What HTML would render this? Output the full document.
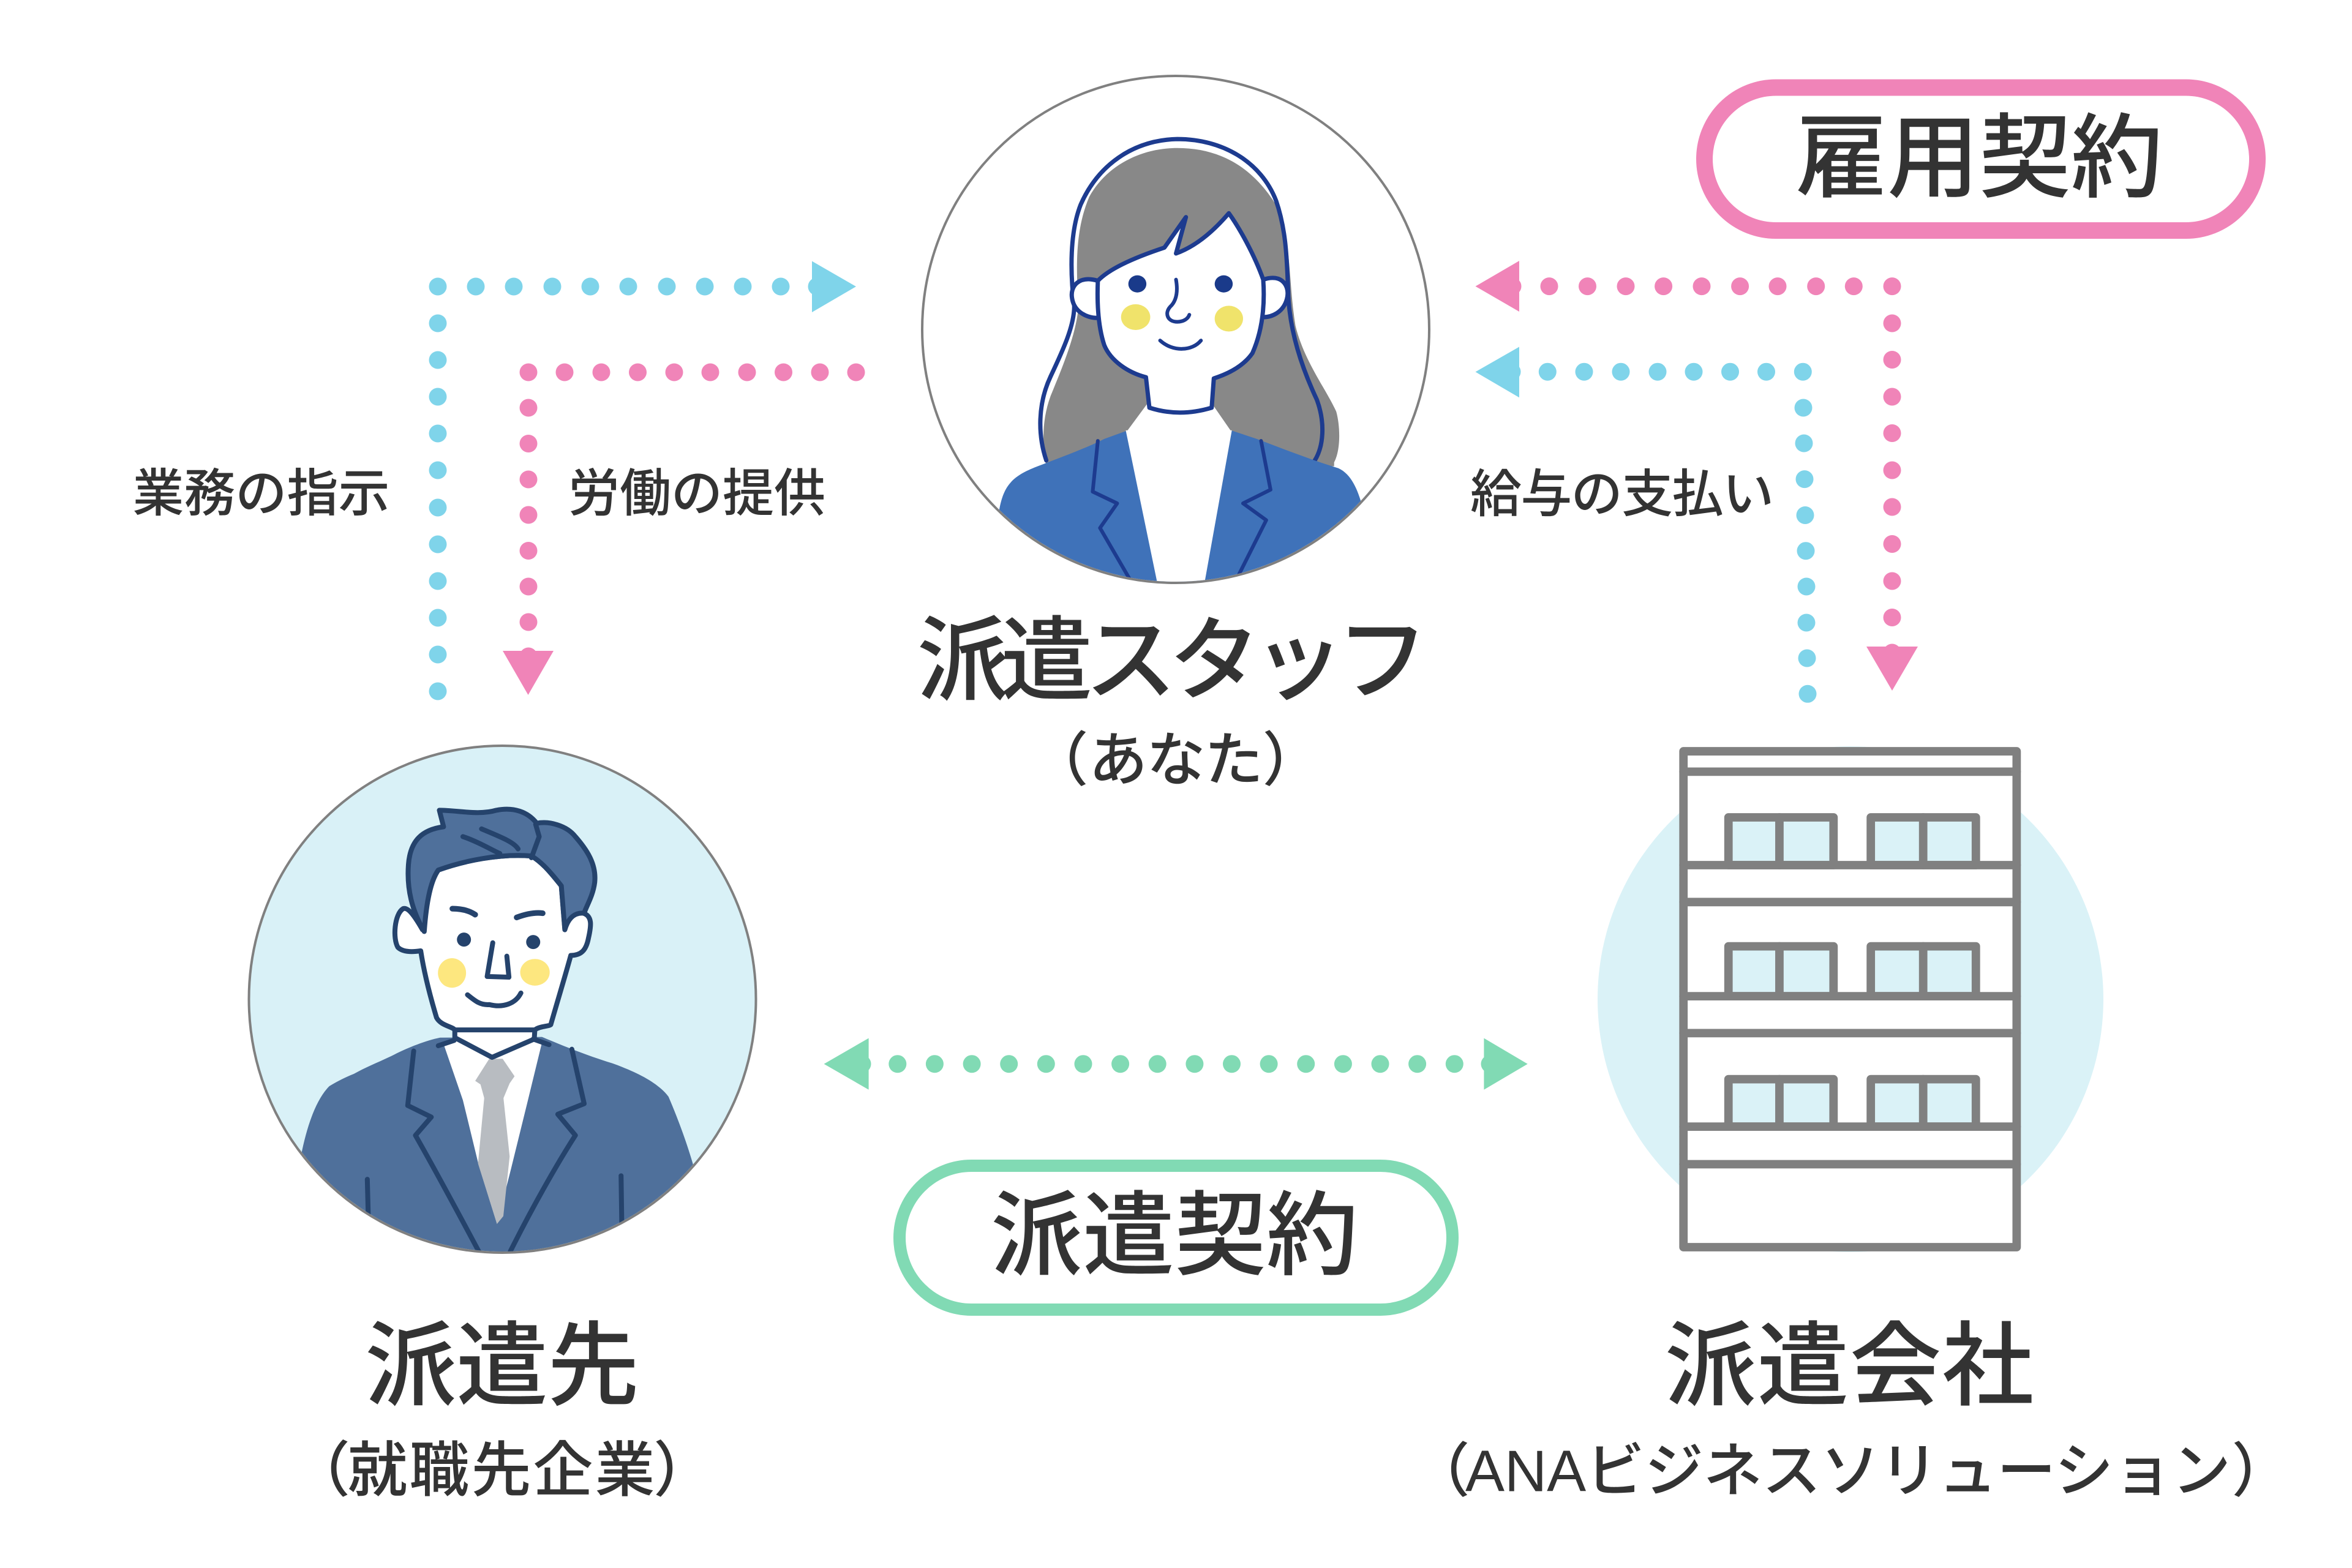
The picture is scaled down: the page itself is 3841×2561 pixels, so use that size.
<!DOCTYPE html>
<html><head><meta charset="utf-8"><style>html,body{margin:0;padding:0;background:#fff;}svg{display:block}.p{font-feature-settings:"palt";}</style></head><body>
<svg width="3841" height="2561" viewBox="0 0 3841 2561" xmlns="http://www.w3.org/2000/svg">
<defs>
<clipPath id="cw"><circle cx="1920" cy="538" r="412"/></clipPath>
<clipPath id="cm"><circle cx="820.5" cy="1632" r="412"/></clipPath>
</defs>
<rect width="3841" height="2561" fill="#fff"/>

<!-- circles -->
<circle cx="1920" cy="538" r="414" fill="#fff" stroke="#808080" stroke-width="4"/>
<circle cx="820.5" cy="1632" r="414" fill="#d9f1f7" stroke="#808080" stroke-width="4"/>
<circle cx="3022" cy="1632" r="413" fill="#daf2f7"/>

<!-- woman -->
<g clip-path="url(#cw)">
<g transform="translate(1400,60) scale(0.70153,0.63776)" stroke-linejoin="round" stroke-linecap="round">
<path d="M745,285 C850,285 930,340 985,450 C1010,540 1005,640 1020,740 C1040,830 1090,900 1115,960 C1125,1000 1125,1060 1110,1090 L1110,1100 L440,1100 C430,1040 430,980 450,920 C480,840 510,760 515,690 C510,600 505,500 540,410 C580,330 660,285 745,285 Z" fill="#888"/>
<path d="M440,1085 C420,1020 420,940 450,870 C480,800 505,740 505,690 C495,600 495,500 520,430 C560,330 640,265 745,262 C850,262 940,320 975,420 C1000,500 1000,580 1003,650 C1005,760 1040,860 1070,930 C1090,990 1085,1050 1065,1085" fill="none" stroke="#1d3b8f" stroke-width="7" vector-effect="non-scaling-stroke"/>
<path d="M330,1215 C340,1150 360,1125 420,1100 C480,1075 540,1050 575,1030 L630,1008 L870,1008 L930,1030 C990,1055 1060,1085 1120,1105 C1150,1120 1165,1160 1175,1200 L1200,1450 L300,1450 Z" fill="#3f72b9"/>
<path d="M625,1008 L872,1008 L800,1450 L708,1450 Z" fill="#fff"/>
<path d="M675,940 L826,940 L870,1010 L628,1010 Z" fill="#fff"/>
<path d="M560,625 C515,610 495,640 500,670 C505,705 535,722 565,720 Z" fill="#fff" stroke="#1d3b8f" stroke-width="7" vector-effect="non-scaling-stroke"/>
<path d="M945,622 C990,605 1008,640 1000,672 C992,705 965,720 940,718 Z" fill="#fff" stroke="#1d3b8f" stroke-width="7" vector-effect="non-scaling-stroke"/>
<path d="M560,625 C590,590 660,560 715,540 L765,462 L742,555 C780,540 820,510 865,452 C890,490 925,560 945,622 C950,700 940,760 920,810 C895,850 850,868 830,875 L825,950 Q750,975 680,950 L672,872 C630,860 590,830 575,790 C560,740 558,680 560,625 Z" fill="#fff" stroke="#1d3b8f" stroke-width="7" vector-effect="non-scaling-stroke"/>
<ellipse cx="652" cy="633" rx="21" ry="22" fill="#1a3a8a"/>
<ellipse cx="853" cy="633" rx="21" ry="22" fill="#1a3a8a"/>
<ellipse cx="648" cy="718" rx="34" ry="33" fill="#f0e36b"/>
<ellipse cx="865" cy="722" rx="33" ry="33" fill="#f0e36b"/>
<path d="M742,622 C748,660 740,680 728,692 C715,708 722,730 745,730 C760,730 770,722 773,712" fill="none" stroke="#1d3b8f" stroke-width="6" vector-effect="non-scaling-stroke"/>
<path d="M705,778 C735,808 780,805 800,778" fill="none" stroke="#1d3b8f" stroke-width="6" vector-effect="non-scaling-stroke"/>
<path d="M560,1035 L548,1165 L605,1195 L565,1258 L640,1400 M940,1035 L962,1160 L898,1195 L952,1238 L878,1400" fill="none" stroke="#1d3b8f" stroke-width="6" vector-effect="non-scaling-stroke"/>
</g>
</g>

<!-- man -->
<g clip-path="url(#cm)">
<g transform="translate(380,1200) scale(0.57398)" stroke-linejoin="round" stroke-linecap="round">
<path d="M195,1195 C210,1120 235,1040 275,1000 C300,985 320,975 345,965 C380,945 420,930 460,910 C500,890 550,870 590,862 L880,860 C940,885 1000,910 1080,935 C1150,960 1210,990 1240,1030 C1270,1100 1295,1170 1312,1230 L1330,1520 L170,1520 Z" fill="#4f709b"/>
<path d="M600,880 L640,868 L738,915 L858,868 L880,876 L840,1040 L792,1235 L752,1392 L700,1225 L655,1040 Z" fill="#fff"/>
<path d="M730,922 L768,922 L802,972 L788,992 L770,1035 L716,1035 L705,995 L690,985 Z" fill="#b8bcc1"/>
<path d="M716,1030 L770,1030 L788,1200 L770,1370 L752,1392 L698,1220 Z" fill="#b8bcc1"/>
<path d="M628,830 L860,830 L858,868 L738,915 L632,862 Z" fill="#fff"/>
<path d="M632,830 L632,862 L738,918 L858,866 L860,835" fill="none" stroke="#25436c" stroke-width="14"/>
<path d="M540,555 C520,520 500,490 485,495 C460,510 455,580 470,605 C485,620 515,618 535,615 C545,680 562,745 580,805 C592,828 625,830 632,840 L860,840 C870,830 900,830 905,825 C925,755 945,690 962,628 C990,628 1005,615 1012,580 C1020,545 1025,515 995,507 C970,500 952,520 945,552 L935,430 C910,400 880,360 850,345 C760,338 660,358 585,385 C560,420 548,490 540,555 Z" fill="#fff" stroke="#25436c" stroke-width="14"/>
<path d="M545,560 C510,500 495,440 500,370 C505,300 540,270 600,262 L588,215 C640,215 700,230 750,215 C800,205 840,220 865,252 C900,245 950,258 975,290 C1010,330 1035,370 1030,420 C1025,460 1005,490 1000,508 C975,505 955,520 945,555 L935,430 C900,385 875,360 850,345 C760,338 660,358 585,385 C560,420 550,490 545,560 Z" fill="#4f709b" stroke="#25436c" stroke-width="14"/>
<path d="M655,290 C700,305 740,330 760,338 M708,268 C760,290 800,305 812,325 M862,255 L872,290 L850,350" fill="none" stroke="#25436c" stroke-width="14"/>
<path d="M625,495 C650,495 672,500 690,512 M808,520 C835,510 860,505 882,508" fill="none" stroke="#25436c" stroke-width="16"/>
<circle cx="658" cy="583" r="20" fill="#25436c"/>
<circle cx="855" cy="590" r="20" fill="#25436c"/>
<ellipse cx="624" cy="678" rx="40" ry="42" fill="#fde77f"/>
<ellipse cx="860" cy="676" rx="42" ry="38" fill="#fde77f"/>
<path d="M740,592 L724,688 L786,690 L780,630" fill="none" stroke="#25436c" stroke-width="14"/>
<path d="M668,740 C690,758 705,770 730,768 C770,778 805,765 820,735" fill="none" stroke="#25436c" stroke-width="14"/>
<path d="M515,900 L498,1055 L565,1088 L520,1140 C560,1210 620,1320 700,1470 M965,895 L1000,1050 L925,1080 L975,1140 C930,1210 860,1330 790,1470 M383,1265 L386,1380 M1105,1255 L1107,1390 M585,885 L630,870 M855,866 L900,882" fill="none" stroke="#25436c" stroke-width="14"/>
</g>
</g>

<!-- building -->
<g transform="translate(2600,1180) scale(0.57398)" stroke="#808080" stroke-width="24" stroke-linejoin="round" stroke-linecap="round">
<rect x="260" y="82" width="948" height="1411" fill="#fff"/>
<rect x="388" y="270" width="299" height="136" fill="#daf2f7"/>
<rect x="793" y="270" width="299" height="136" fill="#daf2f7"/>
<rect x="388" y="637" width="299" height="142" fill="#daf2f7"/>
<rect x="793" y="637" width="299" height="142" fill="#daf2f7"/>
<rect x="388" y="1015" width="299" height="135" fill="#daf2f7"/>
<rect x="793" y="1015" width="299" height="135" fill="#daf2f7"/>
<path d="M533,270 V406 M942,270 V406 M533,637 V779 M942,637 V779 M533,1015 V1150 M942,1015 V1150" fill="none"/>
<path d="M260,140 H1208 M260,406 H1208 M260,511 H1208 M260,779 H1208 M260,884 H1208 M260,1150 H1208 M260,1257 H1208" fill="none"/>
</g>

<!-- pills -->
<rect x="2783.5" y="143" width="903" height="233.5" rx="116.75" fill="#fff" stroke="#f084b8" stroke-width="27"/>
<rect x="1469" y="1904" width="903" height="235" rx="117.5" fill="#fff" stroke="#81dab4" stroke-width="20"/>

<!-- blue path 1 -->
<g fill="#7fd4ea">
<circle cx="715" cy="468" r="14.5"/><circle cx="777" cy="468" r="14.5"/><circle cx="839" cy="468" r="14.5"/><circle cx="902" cy="468" r="14.5"/><circle cx="964" cy="468" r="14.5"/><circle cx="1026" cy="468" r="14.5"/><circle cx="1089" cy="468" r="14.5"/><circle cx="1151" cy="468" r="14.5"/><circle cx="1213" cy="468" r="14.5"/><circle cx="1275" cy="468" r="14.5"/><circle cx="1334" cy="468" r="14.5"/>
<circle cx="715" cy="528" r="14.5"/><circle cx="715" cy="588" r="14.5"/><circle cx="715" cy="648" r="14.5"/><circle cx="715" cy="708" r="14.5"/><circle cx="715" cy="768" r="14.5"/><circle cx="715" cy="829" r="14.5"/><circle cx="715" cy="889" r="14.5"/><circle cx="715" cy="949" r="14.5"/><circle cx="715" cy="1009" r="14.5"/><circle cx="715" cy="1069" r="14.5"/><circle cx="715" cy="1129" r="14.5"/>
<polygon points="1326,426.5 1398,468 1326,510"/>
</g>
<!-- pink path 1 -->
<g fill="#f084b8">
<circle cx="863" cy="608" r="14.5"/><circle cx="922" cy="608" r="14.5"/><circle cx="982" cy="608" r="14.5"/><circle cx="1041.5" cy="608" r="14.5"/><circle cx="1101" cy="608" r="14.5"/><circle cx="1160" cy="608" r="14.5"/><circle cx="1220" cy="608" r="14.5"/><circle cx="1279.5" cy="608" r="14.5"/><circle cx="1339" cy="608" r="14.5"/><circle cx="1398" cy="608" r="14.5"/>
<circle cx="863" cy="666" r="14.5"/><circle cx="863" cy="724.5" r="14.5"/><circle cx="863" cy="783" r="14.5"/><circle cx="863" cy="841" r="14.5"/><circle cx="863" cy="899.5" r="14.5"/><circle cx="863" cy="958" r="14.5"/><circle cx="863" cy="1016" r="14.5"/><circle cx="863" cy="1072" r="14.5"/>
<polygon points="821,1063 904,1063 862.5,1135"/>
</g>
<!-- pink path 2 -->
<g fill="#f084b8">
<circle cx="2470" cy="467.6" r="14.5"/><circle cx="2530" cy="467.6" r="14.5"/><circle cx="2592.5" cy="467.6" r="14.5"/><circle cx="2655" cy="467.6" r="14.5"/><circle cx="2716.6" cy="467.6" r="14.5"/><circle cx="2779" cy="467.6" r="14.5"/><circle cx="2841.6" cy="467.6" r="14.5"/><circle cx="2903" cy="467.6" r="14.5"/><circle cx="2965.7" cy="467.6" r="14.5"/><circle cx="3027.3" cy="467.6" r="14.5"/><circle cx="3090" cy="467.6" r="14.5"/>
<circle cx="3090" cy="528" r="14.5"/><circle cx="3090" cy="587.5" r="14.5"/><circle cx="3090" cy="648" r="14.5"/><circle cx="3090" cy="707.5" r="14.5"/><circle cx="3090" cy="768" r="14.5"/><circle cx="3090" cy="828" r="14.5"/><circle cx="3090" cy="888.5" r="14.5"/><circle cx="3090" cy="949" r="14.5"/><circle cx="3090" cy="1008.5" r="14.5"/><circle cx="3090" cy="1066" r="14.5"/>
<polygon points="2409.5,467.6 2481,426 2481,509"/>
<polygon points="3048,1056 3132,1056 3090,1128"/>
</g>
<!-- blue path 2 -->
<g fill="#7fd4ea">
<circle cx="2469" cy="607.2" r="14.5"/><circle cx="2527.3" cy="607.2" r="14.5"/><circle cx="2587" cy="607.2" r="14.5"/><circle cx="2647" cy="607.2" r="14.5"/><circle cx="2707" cy="607.2" r="14.5"/><circle cx="2766" cy="607.2" r="14.5"/><circle cx="2825.5" cy="607.2" r="14.5"/><circle cx="2884.5" cy="607.2" r="14.5"/><circle cx="2944.3" cy="607.2" r="14.5"/>
<circle cx="2945" cy="666" r="14.5"/><circle cx="2946" cy="724" r="14.5"/><circle cx="2947" cy="782.6" r="14.5"/><circle cx="2948" cy="841.5" r="14.5"/><circle cx="2949" cy="899.7" r="14.5"/><circle cx="2950" cy="958" r="14.5"/><circle cx="2950" cy="1017" r="14.5"/><circle cx="2951" cy="1075" r="14.5"/><circle cx="2952" cy="1133.3" r="14.5"/>
<polygon points="2409.5,607.4 2481,566.5 2481,649.3"/>
</g>
<!-- green -->
<g fill="#81dab4">
<circle cx="1408" cy="1737.7" r="14.5"/><circle cx="1465.8" cy="1737.7" r="14.5"/><circle cx="1526.4" cy="1737.7" r="14.5"/><circle cx="1587.1" cy="1737.7" r="14.5"/><circle cx="1647.7" cy="1737.7" r="14.5"/><circle cx="1708.3" cy="1737.7" r="14.5"/><circle cx="1769" cy="1737.7" r="14.5"/><circle cx="1829.6" cy="1737.7" r="14.5"/><circle cx="1890.2" cy="1737.7" r="14.5"/><circle cx="1950.9" cy="1737.7" r="14.5"/><circle cx="2011.5" cy="1737.7" r="14.5"/><circle cx="2072.1" cy="1737.7" r="14.5"/><circle cx="2132.7" cy="1737.7" r="14.5"/><circle cx="2193.4" cy="1737.7" r="14.5"/><circle cx="2254" cy="1737.7" r="14.5"/><circle cx="2314.6" cy="1737.7" r="14.5"/><circle cx="2375.3" cy="1737.7" r="14.5"/><circle cx="2433" cy="1737.7" r="14.5"/>
<polygon points="1345.6,1737.7 1418.6,1695.6 1418.6,1779.8"/>
<polygon points="2423.4,1695.6 2494.7,1737.7 2423.4,1779.8"/>
</g>

<!-- text -->
<g font-family="'Liberation Sans','Noto Sans CJK JP',sans-serif" fill="#333" font-weight="500" text-anchor="middle" dominant-baseline="central">
<text x="3232" y="258" font-size="150" textLength="600" lengthAdjust="spacing">雇用契約</text>
<text x="1918" y="2018" font-size="150" textLength="600" lengthAdjust="spacing">派遣契約</text>
<text x="1915" y="1079" font-size="150" textLength="835" lengthAdjust="spacing">派遣スタッフ</text>
<text class="p" x="1750" y="1242" font-size="96">（</text>
<text x="1920.5" y="1242" font-size="96" textLength="285" lengthAdjust="spacing">あなた</text>
<text class="p" x="2089" y="1242" font-size="96">）</text>
<text x="820" y="2231" font-size="150" textLength="448" lengthAdjust="spacing">派遣先</text>
<text class="p" x="544" y="2401" font-size="98">（</text>
<text x="818.5" y="2401" font-size="98" textLength="502" lengthAdjust="spacing">就職先企業</text>
<text class="p" x="1095" y="2401" font-size="98">）</text>
<text x="3020" y="2231" font-size="150" textLength="603" lengthAdjust="spacing">派遣会社</text>
<text class="p" x="2373" y="2403" font-size="96">（</text>
<text x="3018" y="2403" font-size="96" textLength="1250" lengthAdjust="spacing">ANAビジネスソリューション</text>
<text class="p" x="3672" y="2403" font-size="96">）</text>
<text x="426.5" y="806" font-size="84" textLength="420" lengthAdjust="spacing">業務の指示</text>
<text x="1138" y="806" font-size="84" textLength="420" lengthAdjust="spacing">労働の提供</text>
<text x="2649" y="807" font-size="84" textLength="496" lengthAdjust="spacing">給与の支払い</text>
</g>
</svg>
</body></html>
